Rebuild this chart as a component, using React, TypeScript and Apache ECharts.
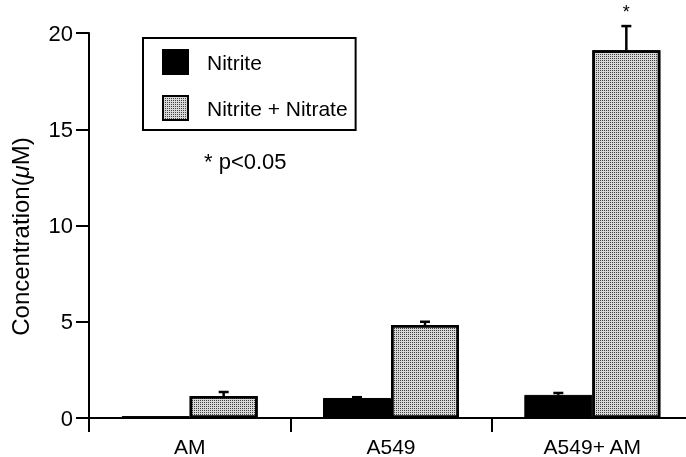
import React, { useEffect, useRef } from "react";
import * as echarts from "echarts";

const categories = ["AM", "A549", "A549+ AM"];
const nitrite = [0.1, 1.04, 1.2];
const nitriteErrTop = [0.1, 1.08, 1.3];
const total = [1.14, 4.83, 19.1];
const totalErrTop = [1.35, 5.0, 20.36];
const significant = [false, false, true];
const yTicks = [0, 5, 10, 15, 20];

const FONT = "'Liberation Sans', Arial, Helvetica, sans-serif";

export default function App() {
  const ref = useRef<HTMLDivElement>(null);
  useEffect(() => {
    if (!ref.current) return;
    document.body.style.overflow = "hidden";
    const chart = echarts.init(ref.current, null, { renderer: "svg" });
    const barW = 68;
    const dotted = {
      color: "#d8d8d8",
      borderColor: "#000",
      borderWidth: 2.5,
      decal: {
        symbol: "rect",
        symbolSize: 1,
        color: "rgba(0,0,0,0.7)",
        dashArrayX: [1, 1],
        dashArrayY: [1, 1],
        rotation: 0,
      },
    };
    const errData: any[] = [];
    categories.forEach((_, i) => {
      errData.push([i, nitrite[i], nitriteErrTop[i], -barW / 2, 0]);
      errData.push([i, total[i], totalErrTop[i], barW / 2, significant[i] ? 1 : 0]);
    });
    chart.setOption({
      animation: false,
      textStyle: { fontFamily: FONT, color: "#000" },
      grid: { left: 84, right: 0, top: 33, bottom: 39, containLabel: false },
      legend: {
        data: ["Nitrite", "Nitrite + Nitrate"],
        orient: "vertical",
        left: 143,
        top: 38,
        icon: "rect",
        itemWidth: 25,
        itemHeight: 24,
        itemGap: 20,
        padding: [11, 8, 9, 19],
        borderColor: "#000",
        borderWidth: 2,
        borderRadius: 0,
        textStyle: { fontSize: 21, color: "#000", fontFamily: FONT, padding: [0, 0, 0, 14] },
      },
      graphic: [
        {
          type: "text",
          left: 204,
          top: 150,
          style: { text: "* p<0.05", fontSize: 22, fill: "#000", fontFamily: FONT },
        },
      ],
      xAxis: {
        type: "category",
        data: categories,
        axisLine: { lineStyle: { color: "#000", width: 2 } },
        axisTick: { show: true, length: 14, alignWithLabel: false, lineStyle: { color: "#000", width: 2 } },
        axisLabel: { fontSize: 21, color: "#000", margin: 18, fontFamily: FONT },
      },
      yAxis: {
        type: "value",
        min: yTicks[0],
        max: yTicks[yTicks.length - 1],
        interval: 5,
        splitLine: { show: false },
        axisLine: { show: true, lineStyle: { color: "#000", width: 2 } },
        axisTick: { show: true, length: 13, lineStyle: { color: "#000", width: 2 } },
        axisLabel: { fontSize: 22, color: "#000", margin: 16, fontFamily: FONT },
        name: "{a|Concentration(}{b|μ}{a|M)}",
        nameLocation: "middle",
        nameRotate: 90,
        nameGap: 57,
        nameTextStyle: {
          fontSize: 24,
          padding: [0, 22, 0, 0],
          rich: {
            a: { fontSize: 24, fontFamily: FONT, color: "#000" },
            b: { fontSize: 24, fontFamily: FONT, color: "#000", fontStyle: "italic" },
          },
        },
      },
      series: [
        {
          name: "Nitrite",
          type: "bar",
          data: nitrite,
          barWidth: barW,
          barGap: "0%",
          itemStyle: { color: "#000", borderColor: "#000", borderWidth: 1 },
        },
        {
          name: "Nitrite + Nitrate",
          type: "bar",
          data: total,
          barWidth: barW,
          barGap: "0%",
          itemStyle: dotted,
        },
        {
          name: "err",
          type: "custom",
          data: errData,
          z: 5,
          renderItem: (params: any, api: any) => {
            const i = api.value(0);
            const v = api.value(1);
            const top = api.value(2);
            const off = api.value(3);
            const sig = api.value(4);
            const p0 = api.coord([i, v]);
            const p1 = api.coord([i, top]);
            const x = p0[0] + off;
            const children: any[] = [];
            if (top > v + 0.01) {
              children.push({
                type: "line",
                shape: { x1: x, y1: p0[1], x2: x, y2: p1[1] },
                style: { stroke: "#000", lineWidth: 2.5 },
              });
              children.push({
                type: "line",
                shape: { x1: x - 5, y1: p1[1], x2: x + 5, y2: p1[1] },
                style: { stroke: "#000", lineWidth: 2.5 },
              });
            }
            if (sig) {
              children.push({
                type: "text",
                x: x,
                y: p1[1] - 14,
                style: {
                  text: "*",
                  fontSize: 18,
                  fill: "#000",
                  fontFamily: FONT,
                  align: "center",
                  verticalAlign: "middle",
                },
              });
            }
            return { type: "group", children };
          },
        },
      ],
    });
    return () => chart.dispose();
  }, []);
  return (
    <div
      ref={ref}
      style={{ position: "fixed", left: 0, top: 0, width: 693, height: 457 }}
    />
  );
}
